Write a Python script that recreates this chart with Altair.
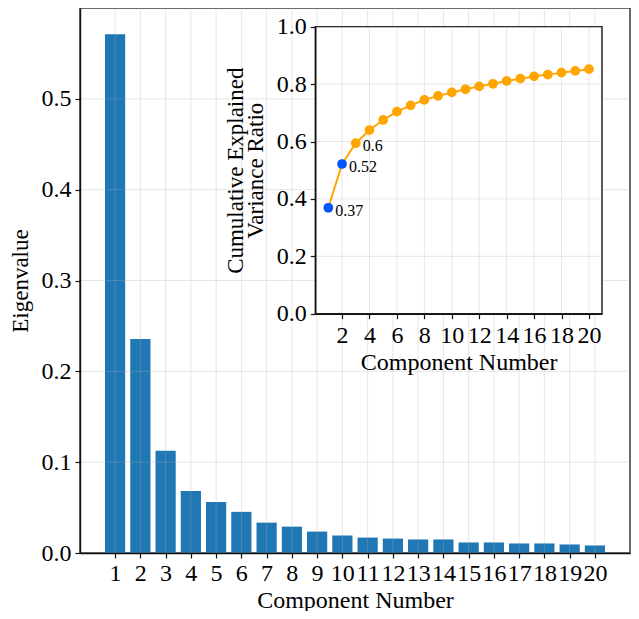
import altair as alt
import pandas as pd

# ---------------- data ----------------
components = list(range(1, 21))
eigenvalues = [0.571, 0.2355, 0.1127, 0.0682, 0.0562, 0.0453, 0.0334, 0.029,
               0.0236, 0.0192, 0.017, 0.0159, 0.0149, 0.0149, 0.0116, 0.0116,
               0.0105, 0.0105, 0.0094, 0.0083]
cumulative = [0.369, 0.5216, 0.594, 0.64, 0.675, 0.704, 0.726, 0.745, 0.759,
              0.771, 0.782, 0.792, 0.801, 0.811, 0.819, 0.827, 0.833, 0.840,
              0.846, 0.852]
highlighted = [1, 2]
annot_components = [1, 2, 3]
annot_labels = ["0.37", "0.52", "0.6"]

main_x_ticks = components
main_y_ticks = [0.0, 0.1, 0.2, 0.3, 0.4, 0.5]
inset_x_ticks = [2, 4, 6, 8, 10, 12, 14, 16, 18, 20]
inset_y_ticks = [0.0, 0.2, 0.4, 0.6, 0.8, 1.0]

MAIN_X_DOM = [-0.39, 21.39]
MAIN_Y_DOM = [0.0, 0.6]
INSET_X_DOM = [0.05, 20.95]
INSET_Y_DOM = [0.0, 1.0]

# ---------------- layout / style ----------------
W, H = 550, 545
INSET_X_RANGE = [235.3, 522.0]
INSET_Y_RANGE = [305.7, 18.7]
FONT = "Liberation Serif"
BAR = "#1f77b4"
ORANGE = "#FFA500"
BLUE = "#0057ff"
GRID = "#b0b0b0"

bars_df = pd.DataFrame({"component": components, "eigenvalue": eigenvalues})
cum_df = pd.DataFrame({
    "component": components,
    "cumulative": cumulative,
    "grp": ["blue" if c in highlighted else "orange" for c in components],
})
ann_df = cum_df[cum_df["component"].isin(annot_components)].copy()
ann_df["label"] = annot_labels

axis_common = dict(
    labelFont=FONT, titleFont=FONT, labelFontSize=24, titleFontSize=24,
    titleFontWeight="normal", labelColor="black", titleColor="black",
    domainColor="#111", domainWidth=1.4, tickColor="#111", tickWidth=1.2,
    tickSize=5, grid=False, labelFlush=False, labelOverlap=False, zindex=1,
)

main_x_scale = alt.Scale(domain=MAIN_X_DOM, nice=False, zero=False)
main_y_scale = alt.Scale(domain=MAIN_Y_DOM, nice=False)

main_x_axis = alt.Axis(values=main_x_ticks, title="Component Number", orient="bottom",
                       labelPadding=3, titlePadding=3, **axis_common)
main_y_axis = alt.Axis(values=main_y_ticks, format=".1f", title="Eigenvalue", orient="left",
                       labelPadding=4, titlePadding=9,
                       **{**axis_common, "titleFontSize": 23})

bars = alt.Chart(bars_df).transform_calculate(
    x0="datum.component - 0.4", x1="datum.component + 0.4"
).mark_bar(color=BAR).encode(
    x=alt.X("x0:Q", scale=main_x_scale, axis=main_x_axis),
    x2="x1:Q",
    y=alt.Y("eigenvalue:Q", scale=main_y_scale, axis=main_y_axis),
    y2=alt.datum(0),
)

main_vgrid = alt.Chart(pd.DataFrame({"t": main_x_ticks})).mark_rule(
    color=GRID, strokeOpacity=0.3, strokeWidth=1
).encode(x=alt.X("t:Q", axis=main_x_axis))

main_hgrid = alt.Chart(pd.DataFrame({"t": main_y_ticks})).mark_rule(
    color=GRID, strokeOpacity=0.3, strokeWidth=1
).encode(y=alt.Y("t:Q", axis=main_y_axis))

main = alt.layer(bars, main_vgrid, main_hgrid)

# ---------------- inset ----------------
inset_x_scale = alt.Scale(domain=INSET_X_DOM, range=INSET_X_RANGE, nice=False, zero=False)
inset_y_scale = alt.Scale(domain=INSET_Y_DOM, range=INSET_Y_RANGE, nice=False, zero=False)

inset_x_axis = alt.Axis(values=inset_x_ticks, title="Component Number", orient="bottom",
                        offset=-(H - INSET_Y_RANGE[0]), labelPadding=5, titlePadding=3,
                        **axis_common)
inset_y_axis = alt.Axis(values=inset_y_ticks, format=".1f",
                        title=["Cumulative Explained", "Variance Ratio"], orient="left",
                        offset=-INSET_X_RANGE[0], labelPadding=4, titlePadding=9,
                        titleLineHeight=20, **{**axis_common, "titleFontSize": 23})

one = pd.DataFrame({"a": [0]})
panel = alt.Chart(one).mark_rect(fill="white", stroke="black", strokeWidth=1.3).encode(
    x=alt.XDatum(INSET_X_DOM[0], type="quantitative", scale=inset_x_scale, axis=inset_x_axis),
    x2=alt.datum(INSET_X_DOM[1]),
    y=alt.YDatum(INSET_Y_DOM[0], type="quantitative", scale=inset_y_scale, axis=inset_y_axis),
    y2=alt.datum(INSET_Y_DOM[1]),
)

inset_vgrid = alt.Chart(pd.DataFrame({"t": inset_x_ticks})).mark_rule(
    color=GRID, strokeOpacity=0.3, strokeWidth=1
).encode(
    x=alt.X("t:Q", axis=inset_x_axis),
    y=alt.YDatum(INSET_Y_DOM[0], type="quantitative", axis=inset_y_axis),
    y2=alt.datum(INSET_Y_DOM[1]),
)

inset_hgrid = alt.Chart(pd.DataFrame({"t": inset_y_ticks})).mark_rule(
    color=GRID, strokeOpacity=0.3, strokeWidth=1
).encode(
    y=alt.Y("t:Q", axis=inset_y_axis),
    x=alt.XDatum(INSET_X_DOM[0], type="quantitative", axis=inset_x_axis),
    x2=alt.datum(INSET_X_DOM[1]),
)

line = alt.Chart(cum_df).mark_line(color=ORANGE, strokeWidth=2).encode(
    x=alt.X("component:Q", axis=inset_x_axis),
    y=alt.Y("cumulative:Q", axis=inset_y_axis),
)

points = alt.Chart(cum_df).mark_circle(size=95, opacity=1).encode(
    x=alt.X("component:Q", axis=inset_x_axis),
    y=alt.Y("cumulative:Q", axis=inset_y_axis),
    color=alt.Color("grp:N", scale=alt.Scale(domain=["orange", "blue"], range=[ORANGE, BLUE]),
                    legend=None),
)

labels = alt.Chart(ann_df).mark_text(
    align="left", baseline="middle", dx=7, dy=3, font=FONT, fontSize=16, color="black"
).encode(
    x=alt.X("component:Q", axis=inset_x_axis),
    y=alt.Y("cumulative:Q", axis=inset_y_axis),
    text="label:N",
)

inset = alt.layer(panel, inset_vgrid, inset_hgrid, line, points, labels)

chart = alt.layer(main, inset).resolve_scale(
    x="independent", y="independent", color="independent"
).properties(
    width=W, height=H,
    padding={"left": 72, "top": 0, "right": 1, "bottom": 58},
    autosize=alt.AutoSizeParams(type="none"),
).configure_view(stroke="#3a3a3a", strokeWidth=1.5)

chart.save("out.html", embed_options={"renderer": "svg", "actions": False})
